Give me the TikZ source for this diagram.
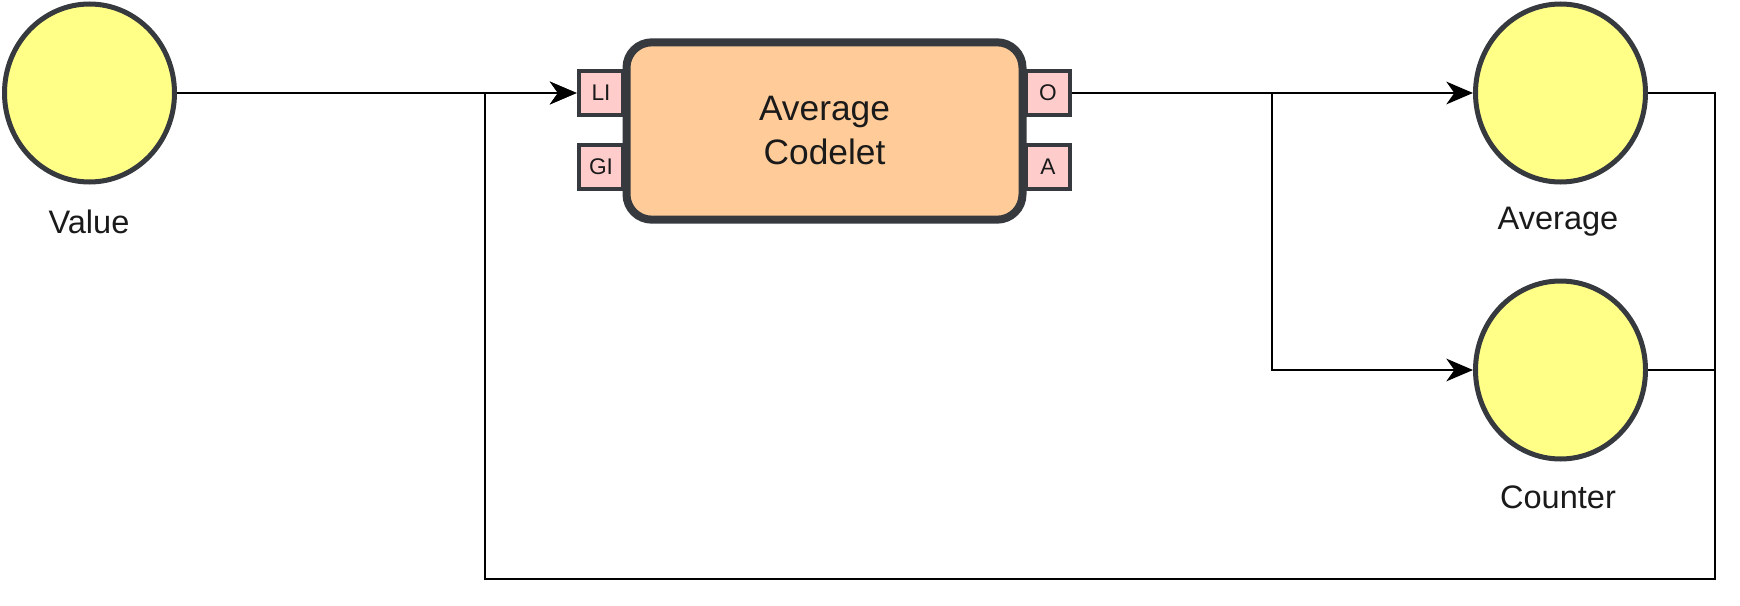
\documentclass[tikz,border=0pt]{standalone}
\usepackage{fontspec}
\setmainfont{Liberation Sans}
\usetikzlibrary{arrows.meta,shapes.geometric}
\definecolor{strokec}{HTML}{36393D}
\definecolor{ellfill}{HTML}{FFFF88}
\definecolor{boxfill}{HTML}{FFCC99}
\definecolor{portfill}{HTML}{FFCCCC}
\definecolor{txt}{HTML}{1A1A1A}
\tikzset{
  store/.style={ellipse, draw=strokec, fill=ellfill, line width=3.75pt, minimum width=127.5pt, minimum height=133.5pt, inner sep=0pt},
  codelet/.style={rectangle, rounded corners=19pt, draw=strokec, fill=boxfill, line width=6pt, minimum width=297pt, minimum height=133pt, align=center, font=\fontsize{26.5pt}{33pt}\selectfont, text=txt},
  port/.style={rectangle, draw=strokec, fill=portfill, line width=3.6pt, minimum width=33pt, minimum height=33pt, inner sep=0pt, font=\fontsize{17pt}{20pt}\selectfont, text=txt},
  lbl/.style={font=\fontsize{24.4pt}{29pt}\selectfont, text=txt, inner sep=0pt},
  wire/.style={line width=2pt, black},
  conn/.style={wire, -{Stealth[length=20pt, width=17pt, inset=6pt]}}
}
\begin{document}
\begin{tikzpicture}[x=0.75pt,y=-0.75pt]
\useasboundingbox (0,0) rectangle (1740,606);
% stores
\node[store] (val) at (89.5,93) {};
\node[store] (avg) at (1560.5,93) {};
\node[store] (cnt) at (1560.5,370) {};
\node[lbl] (vallbl) at (89,222) {Value};
\node[lbl] (avglbl) at (1558,222) {Average};
\node[lbl] (cntlbl) at (1558,497) {Counter};
% ports
\node[port] (li) at (601,93) {LI};
\node[port] (gi) at (601,167) {GI};
\node[port] (o) at (1048,93) {O};
\node[port] (a) at (1048,167) {A};
% codelet
\node[codelet] (cod) at (824.5,131) {Average\\Codelet};
% connectors
\coordinate (rx) at (1715,579);
\coordinate (lx) at (485,579);
\coordinate (br) at (1272,93);
\draw[conn] (avg.east) -| (rx) -- (lx) |- (li.west);
\draw[wire] (cnt.east) -- (cnt.east -| rx);
\draw[conn] (val.east) -- (li.west);
\draw[conn] (o.east) -- (avg.west);
\draw[conn] (br) |- (cnt.west);
\end{tikzpicture}
\end{document}
